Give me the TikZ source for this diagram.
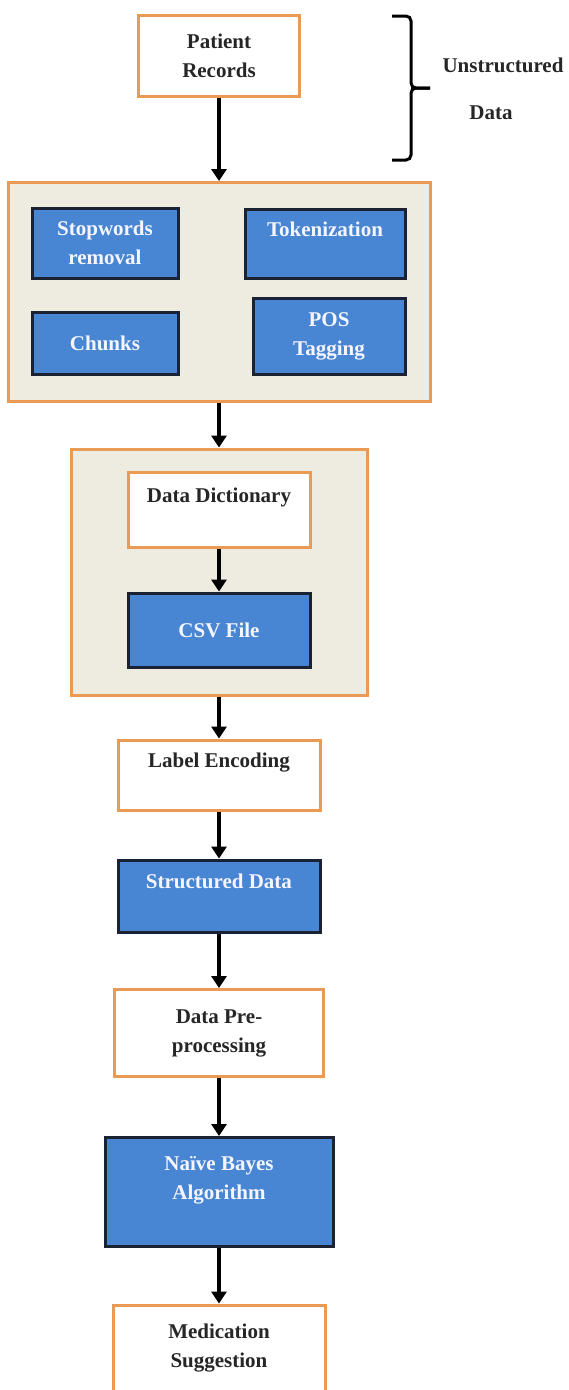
\documentclass[tikz,border=0pt]{standalone}
\usepackage{fontspec}
\setmainfont{Liberation Serif}
\usetikzlibrary{arrows.meta}

\definecolor{boxorange}{HTML}{E99A55}
\definecolor{boxblue}{HTML}{4885D2}
\definecolor{boxdark}{HTML}{1A2233}
\definecolor{panelfill}{HTML}{EEEBE0}

\begin{document}
\begin{tikzpicture}[x=1pt,y=-1pt,
    whitebox/.style={draw=boxorange,fill=white,line width=3pt,inner sep=0pt,align=center,text=black!85},
    bluebox/.style={draw=boxdark,fill=boxblue,line width=3pt,inner sep=0pt,align=center,text=blue!4},
    panel/.style={draw=boxorange,fill=panelfill,line width=3pt,inner sep=0pt},
    arr/.style={line width=3.2pt,-{Triangle[length=12pt,width=15pt]}},
    font=\fontsize{21}{29}\selectfont\bfseries]
    \pgfmathsetmacro{\midx}{219}
    \useasboundingbox (0,0) rectangle (569,1390);
    % unstructured part
    \node[whitebox,minimum width=161pt,minimum height=81pt] (pat) at (\midx,56) {Patient\\Records};
    \draw[line width=3pt,rounded corners=5pt] (392,16) -- (411,16) -- (411,88) -- (430,88);
    \draw[line width=3pt,rounded corners=5pt] (430,88) -- (411,88) -- (411,160) -- (392,160);
    \node[text=black!85] (unstr) at (503,65) {Unstructured};
    \node[text=black!85] (dat) at (491,113) {Data};
    % text processing
    \node[panel,minimum width=422pt,minimum height=219pt] (prep) at (\midx,292) {};
    \node[bluebox,minimum width=146pt,minimum height=70pt] (stop) at (105,243) {Stopwords\\removal};
    \node[bluebox,minimum width=160pt,minimum height=69pt] (tok) at (325,244) {Tokenization\\~};
    \node[bluebox,minimum width=146pt,minimum height=62pt] (chunk) at (105,343) {Chunks};
    \node[bluebox,minimum width=152pt,minimum height=76pt] (pos) at (329,336) {POS\\Tagging};
    % dictionary
    \node[panel,minimum width=296pt,minimum height=246pt] (dictpanel) at (\midx,572) {};
    \node[whitebox,minimum width=182pt,minimum height=75pt] (dict) at (\midx,510) {Data Dictionary\\~};
    \node[bluebox,minimum width=182pt,minimum height=74pt] (csv) at (\midx,630) {CSV File};
    \node[whitebox,minimum width=202pt,minimum height=70pt] (lab) at (\midx,775) {Label Encoding\\~};
    \node[bluebox,minimum width=202pt,minimum height=72pt] (struct) at (\midx,896) {Structured Data\\~};
    \node[whitebox,minimum width=209pt,minimum height=87pt] (pre) at (\midx,1033) {Data Pre-\\processing};
    \node[bluebox,minimum width=228pt,minimum height=109pt] (nb) at (\midx,1192) {Naïve Bayes\\Algorithm\\~};
    \node[whitebox,minimum width=212pt,minimum height=86pt] (med) at (\midx,1348) {Medication\\Suggestion};
    \draw[arr] (pat) -- (prep);
    \draw[arr] (prep) -- (dictpanel);
    \draw[arr] (dict) -- (csv);
    \draw[arr] (dictpanel) -- (lab);
    \draw[arr] (lab) -- (struct);
    \draw[arr] (struct) -- (pre);
    \draw[arr] (pre) -- (nb);
    \draw[arr] (nb) -- (med);
\end{tikzpicture}
\end{document}
